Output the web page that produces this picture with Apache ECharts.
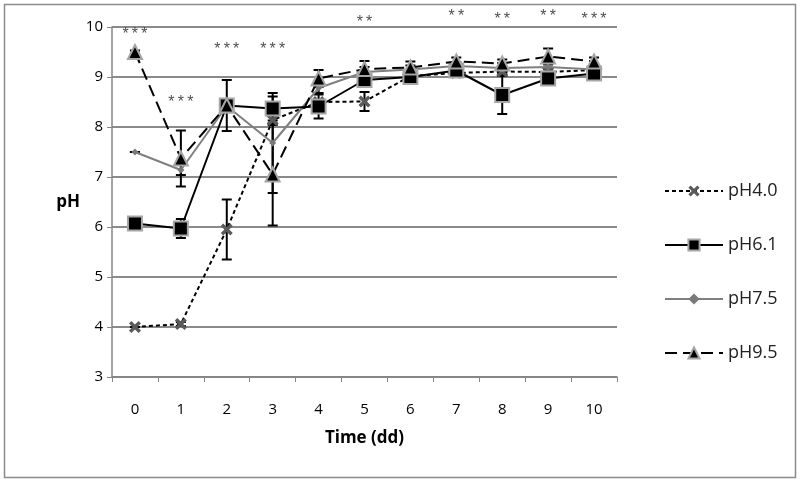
<!DOCTYPE html>
<html>
<head>
<meta charset="utf-8">
<script src="https://cdn.jsdelivr.net/npm/echarts@6/dist/echarts.min.js"></script>
<style>html,body{margin:0;padding:0;background:#fff}#c{width:800px;height:482px}</style>
</head>
<body>
<div id="c"></div>
<script>
var categories = ['0','1','2','3','4','5','6','7','8','9','10'];
var ph40 = [4.0, 4.06, 5.95, 8.14, 8.5, 8.51, 9.02, 9.08, 9.11, 9.1, 9.14];
var ph40Err = [0, 0.04, 0.6, 0.1, 0, 0.19, 0.05, 0.05, 0.08, 0.05, 0.05];
var ph61 = [6.07, 5.97, 8.43, 8.37, 8.41, 8.94, 9.0, 9.13, 8.64, 8.97, 9.07];
var ph61Err = [0.03, 0.19, 0.51, 0.24, 0.24, 0.14, 0.1, 0.1, 0.38, 0.1, 0.1];
var ph75 = [7.5, 7.14, 8.42, 7.68, 8.78, 9.1, 9.15, 9.22, 9.18, 9.2, 9.15];
var ph75Err = [0, 0.1, 0.1, 1.0, 0.1, 0.1, 0.08, 0.08, 0.1, 0.1, 0.08];
var ph95 = [9.5, 7.37, 8.43, 7.05, 8.97, 9.16, 9.19, 9.31, 9.27, 9.41, 9.31];
var ph95Err = [0.03, 0.56, 0.1, 1.02, 0.17, 0.16, 0.12, 0.08, 0.08, 0.16, 0.08];
var starX = ['0','1','2','3','5','7','8','9','10'];
var starY = [9.9, 8.55, 9.6, 9.6, 10.15, 10.26, 10.21, 10.26, 10.21];
var starText = ['***','***','***','***','**','**','**','**','***'];

var FONT = 'Open Sans';
var xPath = 'path://M2,0 L5,3 L8,0 L10,2 L7,5 L10,8 L8,10 L5,7 L2,10 L0,8 L3,5 L0,2 Z';

function errSeries(name, vals, errs) {
  var data = vals.map(function (v, i) { return [i, v - errs[i], v + errs[i]]; });
  return {
    type: 'custom',
    name: name + '_err',
    z: 1,
    silent: true,
    renderItem: function (params, api) {
      var x = api.value(0);
      var lo = api.coord([x, api.value(1)]);
      var hi = api.coord([x, api.value(2)]);
      var w = 5;
      var st = { stroke: '#000', lineWidth: 2 };
      return {
        type: 'group',
        children: [
          { type: 'line', shape: { x1: lo[0], y1: lo[1], x2: hi[0], y2: hi[1] }, style: st },
          { type: 'line', shape: { x1: lo[0] - w, y1: lo[1], x2: lo[0] + w, y2: lo[1] }, style: st },
          { type: 'line', shape: { x1: hi[0] - w, y1: hi[1], x2: hi[0] + w, y2: hi[1] }, style: st }
        ]
      };
    },
    encode: { x: 0, y: [1, 2] },
    data: data
  };
}

var chart = echarts.init(document.getElementById('c'));
chart.setOption({
  animation: false,
  backgroundColor: '#fff',
  textStyle: { fontFamily: FONT },
  graphic: [{
    type: 'rect', shape: { x: 4.5, y: 4.5, width: 791, height: 473 },
    style: { fill: 'none', stroke: '#8c8c8c', lineWidth: 1.5 }, z: -10
  }],
  grid: { left: 112, right: 183, top: 27, bottom: 105 },
  legend: {
    orient: 'vertical',
    left: 659, top: 177,
    itemWidth: 58, itemHeight: 14, itemGap: 36,
    textStyle: { fontFamily: FONT, fontSize: 18, color: '#222' },
    data: ['pH4.0', 'pH6.1', 'pH7.5', 'pH9.5']
  },
  xAxis: {
    type: 'category',
    data: categories,
    boundaryGap: true,
    name: 'Time (dd)',
    nameLocation: 'middle',
    nameGap: 53,
    nameTextStyle: { fontFamily: FONT, fontSize: 17, fontWeight: 'bold', color: '#000' },
    axisLine: { lineStyle: { color: '#868686', width: 1.5 } },
    axisTick: { show: true, length: 5, lineStyle: { color: '#868686' } },
    axisLabel: { fontFamily: FONT, fontSize: 15, color: '#000', margin: 25 }
  },
  yAxis: {
    type: 'value',
    min: 3, max: 10, interval: 1,
    name: 'pH',
    nameLocation: 'middle',
    nameRotate: 0,
    nameGap: 15,
    nameTextStyle: { fontFamily: FONT, fontSize: 17, fontWeight: 'bold', color: '#000' },
    axisLine: { show: true, lineStyle: { color: '#868686', width: 1.5 } },
    axisTick: { show: true, length: 5, lineStyle: { color: '#868686' } },
    axisLabel: { fontFamily: FONT, fontSize: 15, color: '#000', margin: 9 },
    splitLine: { lineStyle: { color: '#8a8a8a', width: 2 } }
  },
  series: [
    errSeries('pH4.0', ph40, ph40Err),
    errSeries('pH6.1', ph61, ph61Err),
    errSeries('pH7.5', ph75, ph75Err),
    errSeries('pH9.5', ph95, ph95Err),
    {
      name: 'pH4.0', type: 'line', data: ph40, z: 3,
      symbol: xPath, symbolSize: 12,
      itemStyle: { color: '#5a5a5a' },
      lineStyle: { color: '#000', width: 2, type: [4, 3] }
    },
    {
      name: 'pH7.5', type: 'line', data: ph75, z: 4,
      symbol: 'diamond', symbolSize: 7,
      itemStyle: { color: '#7a7a7a' },
      lineStyle: { color: '#7f7f7f', width: 2 }
    },
    {
      name: 'pH6.1', type: 'line', data: ph61, z: 5,
      symbol: 'rect', symbolSize: 14,
      itemStyle: { color: '#000', borderColor: '#a6a6a6', borderWidth: 2 },
      lineStyle: { color: '#000', width: 2 }
    },
    {
      name: 'pH9.5', type: 'line', data: ph95, z: 6,
      symbol: 'triangle', symbolSize: 14,
      itemStyle: { color: '#000', borderColor: '#a6a6a6', borderWidth: 2 },
      lineStyle: { color: '#000', width: 2, type: [12, 6] }
    },
    {
      name: 'stars', type: 'scatter', z: 7, clip: false, silent: true,
      symbolSize: 1, itemStyle: { color: 'rgba(0,0,0,0)' },
      data: starX.map(function (x, i) { return [x, starY[i]]; }),
      label: {
        show: true, position: 'inside', offset: [0, 3],
        fontFamily: 'Liberation Sans', fontSize: 16, color: '#222',
        formatter: function (p) { return starText[p.dataIndex].split('').join('\u2009'); }
      }
    }
  ]
});
</script>
</body>
</html>
